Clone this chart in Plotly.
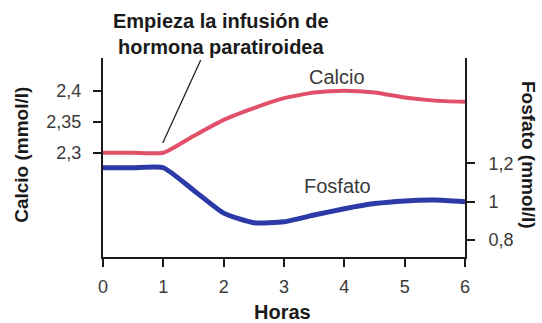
import plotly.graph_objects as go

# Values
horas = [0, 0.5, 1, 1.5, 2, 2.5, 3, 3.5, 4, 4.5, 5, 5.5, 6]
calcio = [2.30, 2.30, 2.30, 2.327, 2.353, 2.372, 2.388, 2.397, 2.400, 2.397, 2.389, 2.384, 2.382]
fosfato = [1.177, 1.177, 1.177, 1.06, 0.94, 0.89, 0.895, 0.93, 0.963, 0.99, 1.004, 1.008, 1.0]

x_ticks = [0, 1, 2, 3, 4, 5, 6]
calcio_ticks = [2.3, 2.35, 2.4]
calcio_labels = ["2,3", "2,35", "2,4"]
fosfato_ticks = [0.8, 1.0, 1.2]
fosfato_labels = ["0,8", "1", "1,2"]

font = "Liberation Sans, Arial, sans-serif"
axis_col = "#1a1a1a"
tick_font = dict(family=font, size=18, color="#3a3a3a")

fig = go.Figure()
fig.add_trace(go.Scatter(x=horas, y=calcio, mode="lines",
                         line=dict(color="#e05068", width=4, shape="spline", smoothing=0.5),
                         yaxis="y", hoverinfo="skip"))
fig.add_trace(go.Scatter(x=horas, y=fosfato, mode="lines",
                         line=dict(color="#2b3aa6", width=5, shape="spline", smoothing=0.5),
                         yaxis="y2", hoverinfo="skip"))

axis_common = dict(ticks="outside", ticklen=8, tickwidth=2, tickcolor=axis_col,
                   showline=True, linecolor=axis_col, linewidth=2,
                   showgrid=False, zeroline=False, tickfont=tick_font)

fig.update_layout(
    width=542, height=323,
    margin=dict(l=103, r=77, t=58, b=66),
    paper_bgcolor="white", plot_bgcolor="white",
    showlegend=False,
    font=dict(family=font),
    xaxis=dict(range=[0, 6], tickvals=x_ticks, ticklabelstandoff=4, **axis_common),
    yaxis=dict(range=[2.132, 2.4527], tickvals=calcio_ticks, ticktext=calcio_labels,
               ticklabelstandoff=8, **axis_common),
    yaxis2=dict(range=[0.711, 1.75], tickvals=fosfato_ticks, ticktext=fosfato_labels,
                overlaying="y", side="right", anchor="x", ticklabelstandoff=10,
                **axis_common),
)

# pointer line from the caption to the start of the infusion
fig.add_shape(type="line", xref="x", yref="y", x0=0.99, y0=2.3157, x1=1.62, y1=2.4495,
              line=dict(color="#222", width=1.3))

mid = dict(xanchor="center", yanchor="middle", showarrow=False)
fig.add_annotation(x=0.326, y=1.12, xref="paper", yref="paper", **mid,
                   text="<b>Empieza la infusión de<br>hormona paratiroidea</b>",
                   font=dict(family=font, size=20, color="#1a1a1a"), align="center")
fig.add_annotation(x=3.88, y=2.4226, xref="x", yref="y", **mid, text="Calcio",
                   font=dict(family=font, size=20, color="#3a3a3a"))
fig.add_annotation(x=3.88, y=1.081, xref="x", yref="y2", **mid, text="Fosfato",
                   font=dict(family=font, size=20, color="#3a3a3a"))
fig.add_annotation(x=0.497, y=-0.276, xref="paper", yref="paper", **mid,
                   text="<b>Horas</b>", font=dict(family=font, size=20, color="#1a1a1a"))
fig.add_annotation(x=-0.224, y=0.513, xref="paper", yref="paper", **mid,
                   text="<b>Calcio (mmol/l)</b>", textangle=-90,
                   font=dict(family=font, size=19, color="#1a1a1a"))
fig.add_annotation(x=1.174, y=0.513, xref="paper", yref="paper", **mid,
                   text="<b>Fosfato (mmol/l)</b>", textangle=90,
                   font=dict(family=font, size=19, color="#1a1a1a"))

fig.write_html("out.html", config={"displayModeBar": False},
               post_script="document.body.style.margin='0';")
